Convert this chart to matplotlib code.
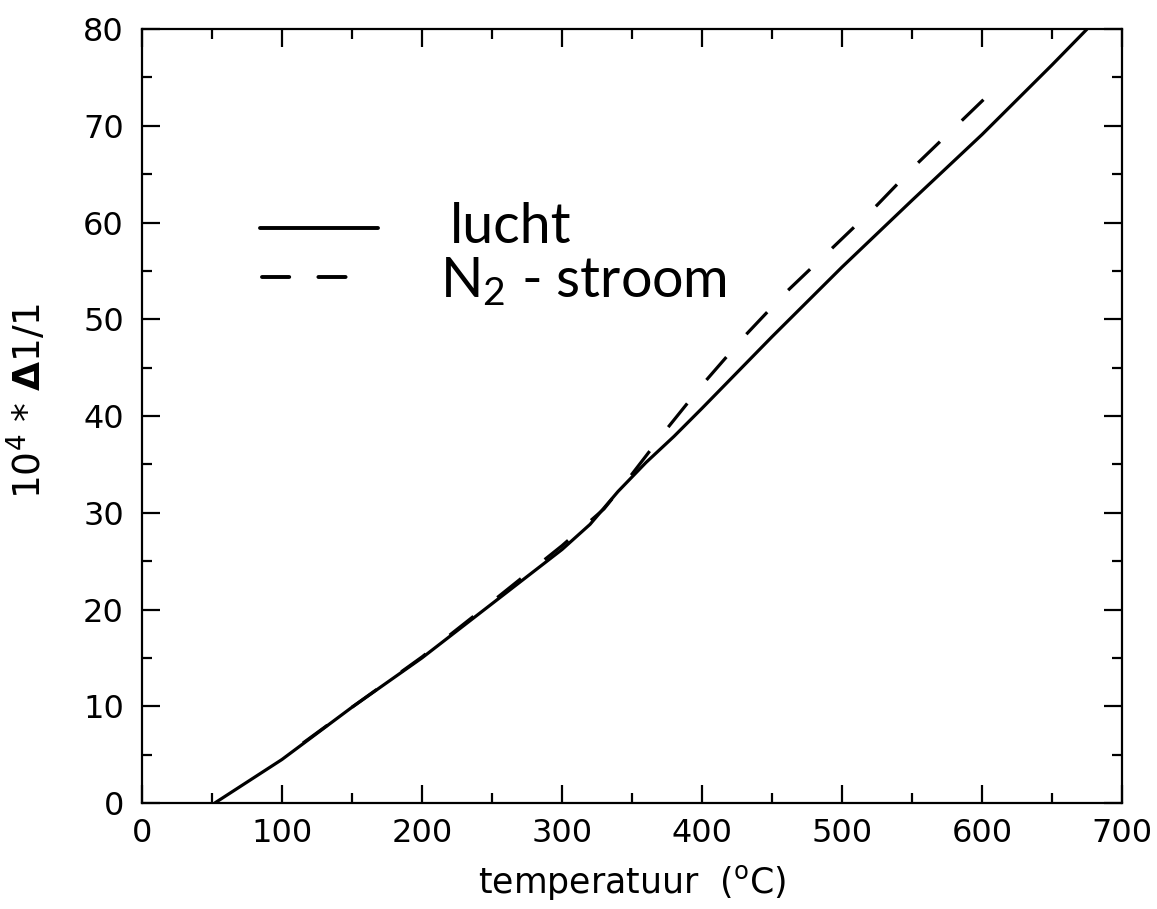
import matplotlib
matplotlib.use("Agg")
import matplotlib.pyplot as plt
from matplotlib.ticker import MultipleLocator
from matplotlib.lines import Line2D

# Thermal expansion curves, 10^4 * dl/l versus temperature
temp_lucht = [52, 100, 150, 200, 250, 300, 320, 340, 360, 380, 400, 450, 500, 550, 600, 650, 675]
dl_lucht = [0, 4.5, 9.9, 15.0, 20.6, 26.2, 28.8, 32.2, 35.2, 37.9, 40.8, 48.2, 55.4, 62.3, 69.1, 76.3, 80.0]

temp_n2 = [115, 150, 200, 250, 300, 330, 350, 375, 400, 430, 460, 494, 525, 553, 601]
dl_n2 = [6.2, 9.9, 15.1, 20.8, 26.6, 30.4, 34.0, 38.7, 43.2, 48.2, 52.8, 57.5, 61.8, 66.0, 72.7]

x_ticks = [0, 100, 200, 300, 400, 500, 600, 700]
y_ticks = [0, 10, 20, 30, 40, 50, 60, 70, 80]

plt.rcParams['mathtext.fontset'] = 'dejavusans'

fig = plt.figure(figsize=(11.57, 9.09), dpi=100)
ax = fig.add_axes([0.1227, 0.1166, 0.8471, 0.8514])

lw = 2.3
ax.plot(temp_lucht, dl_lucht, color='black', lw=lw, solid_capstyle='butt')
ax.plot(temp_n2, dl_n2, color='black', lw=lw, dashes=(9.5, 9.5))

ax.set_xlim(0, 700)
ax.set_ylim(0, 80)
ax.set_xticks(x_ticks)
ax.set_yticks(y_ticks)
ax.xaxis.set_minor_locator(MultipleLocator(50))
ax.yaxis.set_minor_locator(MultipleLocator(5))

for s in ax.spines.values():
    s.set_linewidth(1.6)

ax.tick_params(which='both', direction='in', top=True, right=True, width=1.6)
ax.tick_params(which='major', length=13)
ax.tick_params(which='minor', length=7.5)
ax.tick_params(axis='x', which='major', labelsize=23, pad=11)
ax.tick_params(axis='y', which='major', labelsize=23, pad=13)

ax.set_xlabel(r'temperatuur  ($^{\rm o}$C)', fontsize=25, labelpad=10)
ax.set_ylabel(r'10$^4$ $*$ $\mathbf{\Delta}$1/1', fontsize=27, labelpad=20)
ax.yaxis.set_label_coords(-0.095, 0.52)

# Hand-drawn style legend
ax.add_line(Line2D([0.120, 0.241], [0.743, 0.743], transform=ax.transAxes,
                   color='black', lw=2.8, solid_capstyle='round'))
ax.add_line(Line2D([0.122, 0.232], [0.680, 0.680], transform=ax.transAxes,
                   color='black', lw=2.8, dashes=(7, 7.5), dash_capstyle='round'))
ax.text(0.314, 0.723, 'lucht', transform=ax.transAxes, fontsize=40,
        family='Lato', weight='normal', ha='left', va='baseline')
ax.text(0.304, 0.654, r'$\mathregular{N_2}$ - stroom', transform=ax.transAxes,
        fontsize=40, family='Lato', weight='normal', ha='left', va='baseline')

fig.savefig('out.png', dpi=100)
